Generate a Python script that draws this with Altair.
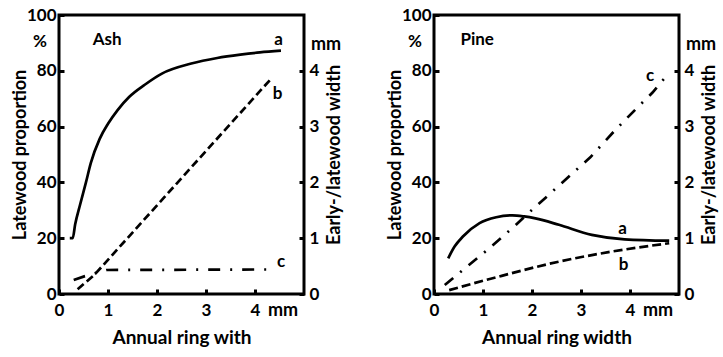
import altair as alt
import pandas as pd

FONT = "Lato"

# ---------------- Ash ----------------
ash_a_x = [0.22, 0.28, 0.33, 0.43, 0.55, 0.65, 0.83, 1.00, 1.20, 1.43, 1.75, 2.10, 2.70, 3.23, 3.70, 4.10, 4.53]
ash_a_y = [20, 20, 25, 32, 40, 47, 55.6, 61, 66, 70.6, 75, 79, 82.6, 84.6, 85.8, 86.6, 87.2]
ash_b_x = [0.38, 0.73, 4.31]
ash_b_y = [0.085, 0.35, 3.84]
ash_c_x = [0.30, 0.53, 0.97, 4.40]
ash_c_y = [0.25, 0.32, 0.43, 0.44]
ash_title = "Ash"
ash_letters = ["a", "b", "c"]
ash_letter_x = [4.48, 4.46, 4.53]
ash_letter_y = [91, 71.8, 11.5]

# ---------------- Pine ----------------
pine_a_x = [0.29, 0.42, 0.59, 0.93, 1.27, 1.60, 1.84, 2.07, 2.55, 3.22, 3.89, 4.80]
pine_a_y = [12.8, 17.0, 20.6, 25.4, 27.5, 28.2, 27.8, 27.1, 24.8, 21.2, 19.6, 19.1]
pine_b_x = [0.31, 1.27, 2.55, 3.56, 4.80]
pine_b_y = [0.07, 0.30, 0.58, 0.75, 0.91]
pine_c_x = [0.22, 0.59, 1.13, 1.66, 1.84, 3.19, 3.69, 4.16, 4.46, 4.63, 4.80]
pine_c_y = [0.16, 0.43, 0.82, 1.23, 1.38, 2.45, 2.93, 3.35, 3.61, 3.79, 3.96]
pine_title = "Pine"
pine_letters = ["a", "b", "c"]
pine_letter_x = [3.85, 3.87, 4.41]
pine_letter_y = [23.4, 10.5, 78.3]

x_ticks = [0, 1, 2, 3, 4]
pct_ticks = [0, 20, 40, 60, 80, 100]
mm_ticks = [0, 1, 2, 3, 4]

W, H = 245, 279


def panel(name, xtitle, ax, ay, bx, by, cx, cy, lx, ly, letters, title_x,
          dash_b, dash_c, b_interp):
    xs = alt.Scale(domain=[0, 5], nice=False, zero=False)
    ys = alt.Scale(domain=[0, 100], nice=False)
    ms = alt.Scale(domain=[0, 5], nice=False)
    xaxis = alt.Axis(values=x_ticks, title=xtitle, offset=-5, tickSize=5,
                     tickWidth=3, domain=False, grid=False, labelPadding=8,
                     labelFlush=False, titlePadding=10, titleFontSize=19)
    laxis = alt.Axis(orient="left", values=pct_ticks, title="Latewood proportion",
                     offset=-5, tickSize=5, tickWidth=3, domain=False, grid=False,
                     labelPadding=3, titlePadding=-3)
    raxis = alt.Axis(orient="right", values=mm_ticks, title="Early-/latewood width",
                     offset=-5, tickSize=5, tickWidth=3, domain=False, grid=False,
                     labelPadding=5, titlePadding=7, titleAngle=270,
                     titleBaseline="top")

    df_a = pd.DataFrame({"x": ax, "y": ay})
    df_b = pd.DataFrame({"x": bx, "y": by})
    df_c = pd.DataFrame({"x": cx, "y": cy})
    df_l = pd.DataFrame({"t": letters, "x": lx, "y": ly})
    df_t = pd.DataFrame({"t": [name], "x": [title_x], "y": [91]})
    df_pct = pd.DataFrame({"t": ["%"], "x": [0], "y": [90.3]})
    df_mm = pd.DataFrame({"t": ["mm"], "x": [5], "y": [89.2]})
    df_xmm = pd.DataFrame({"t": ["mm"], "x": [4], "y": [-6.2]})

    line_a = alt.Chart(df_a).mark_line(color="black", strokeWidth=2.7,
                                       interpolate="monotone").encode(
        x=alt.X("x:Q", scale=xs, axis=xaxis),
        y=alt.Y("y:Q", scale=ys, axis=laxis),
    )
    enc_t = dict(x=alt.X("x:Q", scale=xs, axis=xaxis),
                 y=alt.Y("y:Q", scale=ys, axis=laxis), text="t:N")
    t_title = alt.Chart(df_t).mark_text(align="left", baseline="middle", font=FONT,
                                        fontSize=17, fontWeight="bold",
                                        color="black").encode(**enc_t)
    t_let = alt.Chart(df_l).mark_text(align="center", baseline="middle", font=FONT,
                                      fontSize=17, fontWeight="bold",
                                      color="black").encode(**enc_t)
    t_pct = alt.Chart(df_pct).mark_text(align="center", baseline="middle", dx=-19,
                                        font=FONT, fontSize=17, fontWeight="bold",
                                        color="black").encode(**enc_t)
    t_mm = alt.Chart(df_mm).mark_text(align="left", baseline="middle", dx=7,
                                      font=FONT, fontSize=18, fontWeight="bold",
                                      color="black").encode(**enc_t)
    t_xmm = alt.Chart(df_xmm).mark_text(align="left", baseline="middle", dx=13,
                                        font=FONT, fontSize=18, fontWeight="bold",
                                        color="black").encode(**enc_t)
    left = alt.layer(line_a, t_title, t_let, t_pct, t_mm, t_xmm)

    line_b = alt.Chart(df_b).mark_line(color="black", strokeWidth=2.7,
                                       strokeDash=dash_b, strokeCap="butt",
                                       interpolate=b_interp).encode(
        x=alt.X("x:Q", scale=xs, axis=xaxis),
        y=alt.Y("y:Q", scale=ms, axis=raxis),
    )
    line_c = alt.Chart(df_c).mark_line(color="black", strokeWidth=2.7,
                                       strokeDash=dash_c, strokeCap="butt").encode(
        x=alt.X("x:Q", scale=xs, axis=xaxis),
        y=alt.Y("y:Q", scale=ms, axis=raxis),
    )
    right = alt.layer(line_b, line_c)
    return alt.layer(left, right).resolve_scale(y="independent").properties(
        width=W, height=H)


ash = panel(ash_title, "Annual ring with", ash_a_x, ash_a_y, ash_b_x, ash_b_y,
            ash_c_x, ash_c_y, ash_letter_x, ash_letter_y, ash_letters, 0.69,
            [8, 4], [12, 10, 2, 10], "linear")
pine = panel(pine_title, "Annual ring width", pine_a_x, pine_a_y, pine_b_x, pine_b_y,
             pine_c_x, pine_c_y, pine_letter_x, pine_letter_y, pine_letters, 0.54,
             [9, 4], [11, 9, 2, 9], "monotone")

chart = alt.hconcat(ash, pine, spacing=38).properties(
    padding={"left": 9, "top": 4, "right": 0, "bottom": 0},
    background="white",
).configure_view(stroke="black", strokeWidth=3).configure_axis(
    labelFont=FONT, labelFontSize=17, labelFontWeight="bold", labelColor="black",
    titleFont=FONT, titleFontSize=18, titleFontWeight="bold", titleColor="black",
    tickColor="black"
)

chart.save("out.html", embed_options={"renderer": "svg", "actions": False})
